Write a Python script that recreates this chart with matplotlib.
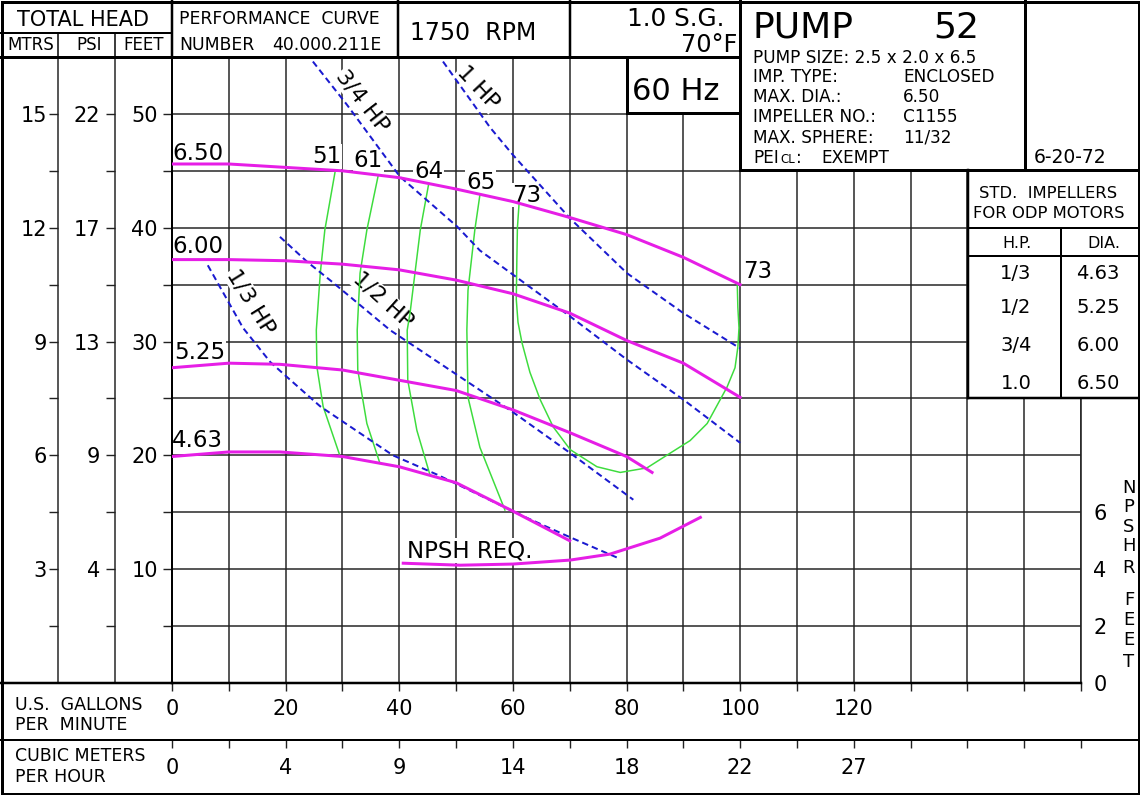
import matplotlib
matplotlib.use('Agg')
import matplotlib.pyplot as plt
import numpy as np
from matplotlib.patches import Rectangle

plt.rcParams['font.family'] = ['DejaVu Sans']

# ---------------- data ----------------
flow_ticks = [0, 20, 40, 60, 80, 100, 120]
flow_labels = ['0', '20', '40', '60', '80', '100', '120']
cubic_labels = ['0', '4', '9', '14', '18', '22', '27']
feet_ticks = [10, 20, 30, 40, 50]
feet_labels = ['10', '20', '30', '40', '50']
mtrs_labels = ['3', '6', '9', '12', '15']
psi_labels = ['4', '9', '13', '17', '22']
npsh_ticks = [0, 2, 4, 6]
npsh_labels = ['0', '2', '4', '6']

# head-capacity curves (US gpm, feet)
d650_q = [0, 10, 20, 30, 40, 50, 60, 70, 80, 90, 100]
d650_h = [45.6, 45.6, 45.3, 45.0, 44.4, 43.4, 42.3, 40.9, 39.4, 37.4, 35.0]
d600_q = [0, 10, 20, 30, 40, 50, 60, 70, 80, 90, 100]
d600_h = [37.2, 37.2, 37.1, 36.8, 36.3, 35.4, 34.2, 32.5, 30.1, 28.1, 25.1]
d525_q = [0, 10, 19, 30, 40, 50, 60, 70, 80, 84.5]
d525_h = [27.7, 28.1, 28.0, 27.5, 26.6, 25.7, 24.0, 22.0, 19.9, 18.5]
d463_q = [0, 10, 19, 30, 40, 50, 60, 70]
d463_h = [19.9, 20.3, 20.3, 19.9, 19.0, 17.6, 15.1, 12.5]

# horsepower lines
hp13_q = [6.3, 12.5, 17.3, 20.2, 26.1, 38.9, 46.7, 62.5, 70.1, 78.9]
hp13_h = [36.7, 31.2, 28.2, 26.9, 24.3, 20.0, 18.3, 14.5, 12.8, 10.9]
hp12_q = [19.0, 23.8, 28.3, 38.4, 50.7, 60.0, 70.1, 81.2]
hp12_h = [39.2, 37.0, 35.2, 31.0, 26.9, 23.8, 20.2, 16.1]
hp34_q = [24.8, 30.8, 40.1, 50.2, 54.2, 70.1, 80.1, 90.0, 100.0]
hp34_h = [54.6, 50.8, 44.5, 40.1, 38.0, 32.2, 28.4, 24.9, 21.1]
hp1_q = [47.7, 56.0, 60.0, 70.1, 80.1, 90.0, 100.0]
hp1_h = [54.6, 48.8, 46.4, 40.8, 36.0, 32.5, 29.4]

# efficiency curves
e51_q = [28.7, 26.9, 26.1, 25.4, 25.5, 26.6, 29.6]
e51_h = [44.9, 39.8, 36.0, 31.0, 27.8, 24.3, 19.9]
e61_q = [36.3, 34.3, 33.1, 32.6, 32.7, 34.3, 36.6]
e61_h = [44.6, 39.8, 36.0, 31.0, 27.5, 22.8, 19.3]
e64_q = [45.2, 43.7, 41.9, 41.4, 41.5, 43.1, 45.4]
e64_h = [43.9, 39.8, 32.5, 31.0, 26.6, 22.2, 18.3]
e65_q = [54.2, 53.3, 52.1, 51.9, 52.1, 54.2, 58.6]
e65_h = [42.9, 39.8, 34.5, 31.0, 25.1, 20.7, 15.2]
e73_q = [61.1, 60.8, 60.7, 60.6, 60.9, 61.6, 63.0, 64.8, 67.1, 70.1, 74.8, 78.9,
         83.6, 87.7, 91.2, 94.2, 97.7, 99.1, 99.6, 99.8, 99.6, 99.5]
e73_h = [42.2, 40.0, 37.2, 33.7, 31.7, 29.9, 27.3, 24.9, 22.5, 20.5, 19.0, 18.5,
         18.9, 20.2, 21.3, 22.8, 26.0, 27.7, 29.5, 31.2, 33.0, 35.0]

# NPSH required (gpm, feet)
npsh_q = [40.7, 50.7, 60.0, 70.1, 77.1, 85.9, 93.0]
npsh_ft = [4.21, 4.14, 4.18, 4.32, 4.53, 5.09, 5.82]

impeller_hp = ['1/3', '1/2', '3/4', '1.0']
impeller_dia = ['4.63', '5.25', '6.00', '6.50']

# ---------------- figure ----------------
W, H, DPI = 1140, 795, 100
PX = 72.0 / DPI
fig = plt.figure(figsize=(W / DPI, H / DPI), dpi=DPI)
fig.patch.set_facecolor('white')

X0, X1, Y0, Y1 = 172, 1081, 57, 683
ax = fig.add_axes([X0 / W, 1 - Y1 / H, (X1 - X0) / W, (Y1 - Y0) / H])
ax.set_xlim(0, 160)
ax.set_ylim(0, 55)

gridc = '#222222'
xt = np.arange(0, 161, 10)
ax.set_xticks(xt)
ax.set_xticklabels([flow_labels[flow_ticks.index(v)] if v in flow_ticks else '' for v in xt])
yt = np.arange(5, 51, 5)
ax.set_yticks(yt)
ax.set_yticklabels([feet_labels[feet_ticks.index(v)] if v in feet_ticks else '' for v in yt])
ax.grid(True, color=gridc, lw=1.5 * PX)
ax.set_axisbelow(True)
ax.tick_params(axis='x', direction='out', length=8 * PX, width=1.4 * PX, pad=6, labelsize=15, color=gridc)
ax.tick_params(axis='y', direction='out', length=9 * PX, width=1.4 * PX, pad=3.6, labelsize=15, color=gridc)
ax.spines['top'].set_visible(False)
ax.spines['left'].set_linewidth(2 * PX)
ax.spines['bottom'].set_linewidth(2.5 * PX)
ax.spines['right'].set_linewidth(1.6 * PX)
ax.spines['right'].set_color(gridc)

ident = (lambda v: v, lambda v: v)
for loc_px, labs, pad in [(58, mtrs_labels, 1.5), (115, psi_labels, 4.3)]:
    sec = ax.secondary_yaxis((loc_px - X0) / (X1 - X0), functions=ident)
    sec.set_yticks(yt)
    sec.set_yticklabels([labs[feet_ticks.index(v)] if v in feet_ticks else '' for v in yt])
    sec.tick_params(axis='y', direction='out', length=9 * PX, width=1.4 * PX, pad=pad, labelsize=15, color=gridc)
    sec.spines['left'].set_linewidth(1.5 * PX)
    sec.spines['left'].set_color(gridc)

secx = ax.secondary_xaxis(-(740 - Y1) / (Y1 - Y0), functions=ident)
secx.set_xticks(xt)
secx.set_xticklabels([cubic_labels[flow_ticks.index(v)] if v in flow_ticks else '' for v in xt])
secx.tick_params(axis='x', direction='out', length=8 * PX, width=1.4 * PX, pad=7, labelsize=15, color=gridc)
secx.spines['bottom'].set_linewidth(2 * PX)

ax2 = ax.twinx()
ax2.set_ylim(0, 22)
ax2.set_yticks(npsh_ticks)
ax2.set_yticklabels(npsh_labels)
ax2.tick_params(axis='y', length=0, pad=9, labelsize=15)
for s in ax2.spines.values():
    s.set_visible(False)

# curves
mag = '#e61ee6'
green = '#3ddc3d'
blue = '#1a1ad0'
for q, h in [(d650_q, d650_h), (d600_q, d600_h), (d525_q, d525_h), (d463_q, d463_h)]:
    ax.plot(q, h, color=mag, lw=3 * PX, zorder=3)
for q, h in [(e51_q, e51_h), (e61_q, e61_h), (e64_q, e64_h), (e65_q, e65_h), (e73_q, e73_h)]:
    ax.plot(q, h, color=green, lw=1.5 * PX, zorder=2.5)
for q, h in [(hp13_q, hp13_h), (hp12_q, hp12_h), (hp34_q, hp34_h), (hp1_q, hp1_h)]:
    ax.plot(q, h, color=blue, lw=2 * PX, dashes=(3.2, 2), zorder=2.6)
ax2.plot(npsh_q, npsh_ft, color=mag, lw=3 * PX)

wb = dict(fc='white', ec='none', pad=0.6)
def lab(x, y, s, size=16.5, **kw):
    ax.text(x, y, s, fontsize=size, zorder=1.6, bbox=wb, **kw)

# diameter labels
lab(0.1, 45.96, '6.50', va='baseline')
lab(0.1, 37.79, '6.00', va='baseline')
lab(0.3, 28.47, '5.25', va='baseline')
lab(0.0, 20.74, '4.63', va='baseline')
# efficiency labels
lab(24.6, 45.7, '51', va='baseline')
lab(32.0, 45.3, '61', va='baseline')
lab(42.6, 44.4, '64', va='baseline')
lab(51.8, 43.4, '65', va='baseline')
lab(59.9, 42.3, '73', va='baseline')
lab(100.5, 35.6, '73', va='baseline')
# hp labels
lab(33.5, 51.1, '3/4 HP', size=16, rotation=-52, ha='center', va='center', rotation_mode='anchor')
lab(53.9, 52.3, '1 HP', size=16, rotation=-47, ha='center', va='center', rotation_mode='anchor')
lab(37.1, 33.7, '1/2 HP', size=16, rotation=-42, ha='center', va='center', rotation_mode='anchor')
lab(13.9, 33.5, '1/3 HP', size=16, rotation=-58, ha='center', va='center', rotation_mode='anchor')
lab(41.3, 11.06, 'NPSH REQ.', va='baseline')

# ---------------- overlay frame ----------------
ov = fig.add_axes([0, 0, 1, 1], zorder=10)
ov.set_xlim(0, W)
ov.set_ylim(H, 0)
ov.axis('off')

ov.add_patch(Rectangle((740, 0), 400, 170, fc='white', ec='none'))
ov.add_patch(Rectangle((627, 57), 113, 56, fc='white', ec='none'))
ov.add_patch(Rectangle((968, 170), 172, 228, fc='white', ec='none'))
ov.add_patch(Rectangle((0, 0), 740, 57, fc='white', ec='none'))

def hl(y, x0, x1, w=2.5):
    ov.plot([x0, x1], [y, y], color='black', lw=w * PX, solid_capstyle='projecting')

def vl(x, y0, y1, w=2.5):
    ov.plot([x, x], [y0, y1], color='black', lw=w * PX, solid_capstyle='projecting')

ov.add_patch(Rectangle((1.5, 1.5), W - 3, H - 3, fc='none', ec='black', lw=3 * PX))
hl(57, 0, 740, 3)
hl(33, 0, 172, 2)
vl(172, 0, 57, 2.5)
vl(398, 0, 57, 2.5)
vl(570, 0, 57, 2.5)
vl(58, 33, 57, 1.5)
vl(115, 33, 57, 1.5)
vl(740, 0, 170, 3)
vl(1025, 0, 170, 3)
hl(170, 740, W, 3)
vl(627, 57, 113, 3)
hl(113, 627, 740, 3)
vl(968, 170, 398, 2.5)
hl(228, 968, W, 2)
vl(1061, 228, 398, 2)
hl(256, 968, W, 2)
hl(398, 968, W, 2.5)
hl(740, 0, W, 2)
hl(683, 0, 172, 2.5)

def t(x, y, s, size, **kw):
    kw.setdefault('va', 'baseline')
    ov.text(x, y, s, fontsize=size, **kw)

t(83, 26, 'TOTAL HEAD', 15, ha='center')
t(31, 50, 'MTRS', 12, ha='center')
t(89, 50, 'PSI', 12, ha='center')
t(144, 50, 'FEET', 12, ha='center')
t(179, 24, 'PERFORMANCE  CURVE', 12.4)
t(179, 50, 'NUMBER', 12.4)
t(381, 50, '40.000.211E', 12.4, ha='right')
t(410, 40, '1750  RPM', 17)
t(724, 26, '1.0 S.G.', 17.8, ha='right')
t(737, 52, '70°F', 17.3, ha='right')
t(676, 100, '60 Hz', 22, ha='center')

t(752, 38, 'PUMP', 26)
t(979, 38, '52', 26, ha='right')
t(753, 63, 'PUMP SIZE: 2.5 x 2.0 x 6.5', 12.2)
info = [('IMP. TYPE:', 'ENCLOSED', 82), ('MAX. DIA.:', '6.50', 102),
        ('IMPELLER NO.:', 'C1155', 122), ('MAX. SPHERE:', '11/32', 143)]
for a, b, y in info:
    t(753, y, a, 12.2)
    t(903, y, b, 12.2)
t(753, 163, 'PEI', 12.2)
t(780, 163, 'CL', 8.5)
t(796, 163, ':', 12.2)
t(821, 163, 'EXEMPT', 12.2)
t(1070, 163, '6-20-72', 13.5, ha='center')

t(1048, 198, 'STD.  IMPELLERS', 11.8, ha='center')
t(1049, 218, 'FOR ODP MOTORS', 11.8, ha='center')
t(1017, 248, 'H.P.', 11.5, ha='center')
t(1104, 248, 'DIA.', 11.5, ha='center')
for i, y in enumerate([279, 313, 351, 389]):
    t(1016, y, impeller_hp[i], 14, ha='center')
    t(1098, y, impeller_dia[i], 14, ha='center')

for ch, y in zip('NPSHRFEET', [488, 507, 527, 546, 568, 600, 620, 640, 662]):
    t(1129, y, ch, 13, ha='center', va='center')

t(15, 710, 'U.S.  GALLONS', 12.5)
t(15, 730, 'PER  MINUTE', 12.5)
t(15, 761, 'CUBIC METERS', 12.5)
t(15, 782, 'PER HOUR', 12.5)

fig.savefig('out.png', dpi=DPI, facecolor='white')
